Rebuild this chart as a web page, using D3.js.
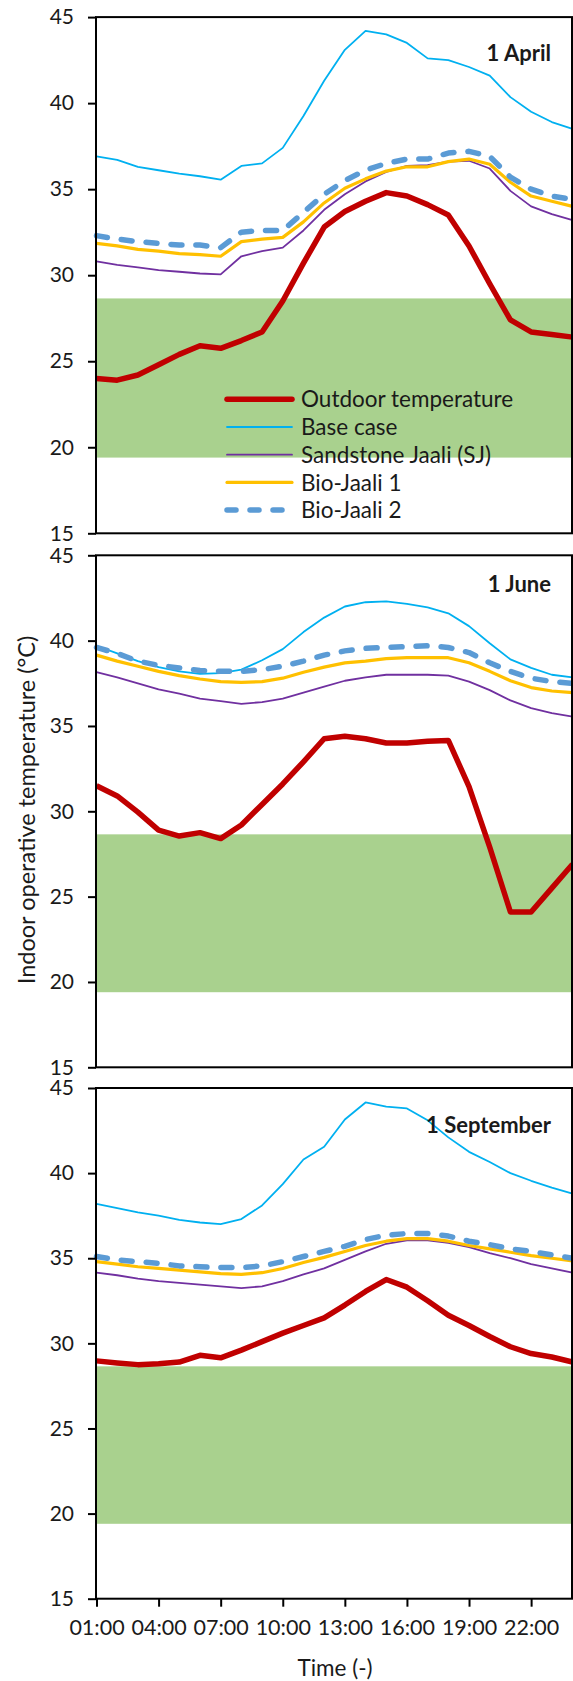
<!DOCTYPE html>
<html>
<head>
<meta charset="utf-8">
<script src="https://cdn.jsdelivr.net/npm/d3@7"></script>
<style>
  body { margin: 0; background: #fff; }
  text { font-family: Lato, "Open Sans", sans-serif; fill: #1a1a1a; }
</style>
</head>
<body>
<svg id="chart"></svg>
<script>
const width = 573, height = 1681;

// hourly categories
const hours = ["01:00","02:00","03:00","04:00","05:00","06:00","07:00","08:00","09:00","10:00","11:00","12:00",
               "13:00","14:00","15:00","16:00","17:00","18:00","19:00","20:00","21:00","22:00","23:00","24:00"];
const hourTicks = ["01:00","04:00","07:00","10:00","13:00","16:00","19:00","22:00"];
const tempTicks = [15, 20, 25, 30, 35, 40, 45];
const comfortBand = [19.4, 28.65];

const seriesNames = ["Outdoor temperature", "Base case", "Sandstone Jaali (SJ)", "Bio-Jaali 1", "Bio-Jaali 2"];

// 1 April
const aprilOutdoor = [24.0,23.9,24.2,24.8,25.4,25.9,25.75,26.2,26.7,28.5,30.7,32.8,33.7,34.3,34.8,34.6,34.1,33.5,31.7,29.5,27.4,26.7,26.55,26.4];
const aprilBase    = [36.9,36.7,36.3,36.1,35.9,35.75,35.55,36.35,36.5,37.4,39.25,41.3,43.1,44.2,44.0,43.5,42.6,42.5,42.1,41.6,40.35,39.5,38.9,38.5];
const aprilSJ      = [30.8,30.6,30.45,30.3,30.2,30.1,30.05,31.1,31.4,31.6,32.6,33.8,34.7,35.45,36.0,36.35,36.4,36.6,36.65,36.2,34.9,34.0,33.55,33.2];
const aprilBJ1     = [31.85,31.7,31.5,31.4,31.25,31.2,31.1,31.95,32.1,32.2,33.1,34.2,35.05,35.6,36.05,36.3,36.3,36.6,36.75,36.45,35.4,34.6,34.3,34.0];
const aprilBJ2     = [32.3,32.1,31.95,31.85,31.75,31.75,31.6,32.5,32.6,32.6,33.65,34.7,35.5,36.1,36.5,36.75,36.75,37.1,37.2,36.9,35.7,35.0,34.6,34.4];

// 1 June
const juneOutdoor = [31.5,30.9,29.95,28.9,28.55,28.75,28.4,29.2,30.4,31.6,32.9,34.25,34.4,34.25,34.0,34.0,34.1,34.15,31.45,27.9,24.1,24.1,25.5,26.9];
const juneBase    = [39.7,39.25,38.8,38.45,38.2,38.05,38.1,38.3,38.85,39.5,40.5,41.35,42.0,42.25,42.3,42.15,41.95,41.6,40.85,39.85,38.9,38.4,38.0,37.85];
const juneSJ      = [38.15,37.85,37.5,37.15,36.9,36.6,36.45,36.3,36.4,36.6,36.95,37.3,37.65,37.85,38.0,38.0,38.0,37.95,37.6,37.1,36.5,36.05,35.75,35.55];
const juneBJ1     = [39.15,38.8,38.5,38.2,37.95,37.75,37.6,37.55,37.6,37.8,38.15,38.45,38.7,38.8,38.95,39.0,39.0,39.0,38.7,38.2,37.65,37.25,37.05,36.95];
const juneBJ2     = [39.6,39.25,38.8,38.55,38.4,38.25,38.2,38.2,38.3,38.5,38.8,39.15,39.4,39.55,39.6,39.65,39.7,39.6,39.3,38.7,38.2,37.8,37.6,37.5];

// 1 September
const septOutdoor = [28.97,28.85,28.75,28.8,28.9,29.3,29.15,29.6,30.1,30.6,31.05,31.5,32.25,33.05,33.75,33.3,32.5,31.65,31.05,30.4,29.8,29.4,29.2,28.9];
const septBase    = [38.2,37.95,37.7,37.5,37.25,37.1,37.0,37.3,38.1,39.35,40.8,41.55,43.15,44.15,43.9,43.8,43.1,42.1,41.25,40.65,40.0,39.55,39.15,38.8];
const septSJ      = [34.15,34.0,33.8,33.65,33.55,33.45,33.35,33.25,33.35,33.65,34.05,34.4,34.9,35.4,35.85,36.05,36.05,35.9,35.65,35.3,35.0,34.65,34.4,34.15];
const septBJ1     = [34.8,34.65,34.5,34.4,34.3,34.2,34.1,34.05,34.15,34.4,34.75,35.05,35.4,35.75,36.0,36.15,36.15,36.0,35.75,35.55,35.35,35.15,35.0,34.85];
const septBJ2     = [35.1,34.9,34.8,34.7,34.55,34.5,34.45,34.45,34.55,34.8,35.1,35.4,35.7,36.1,36.35,36.45,36.45,36.3,36.0,35.8,35.55,35.4,35.2,35.0];

//line styles per series
const styles = [
    {color: "#C00000", width: 5.5, dash: null},
    {color: "#00B0F0", width: 1.8, dash: null},
    {color: "#7030A0", width: 1.8, dash: null},
    {color: "#FFC000", width: 3.2, dash: null},
    {color: "#5B9BD5", width: 5.5, dash: "11,14"}
];

//panel layout
const panels = [
    {title: "1 April",     top: 17.1, bottom: 533.3,  titleY: 60.7,  data: [aprilOutdoor, aprilBase, aprilSJ, aprilBJ1, aprilBJ2], legend: true},
    {title: "1 June",      top: 555.3, bottom: 1067.3, titleY: 591.7, data: [juneOutdoor, juneBase, juneSJ, juneBJ1, juneBJ2]},
    {title: "1 September", top: 1088, bottom: 1598.7,  titleY: 1133.3, data: [septOutdoor, septBase, septSJ, septBJ1, septBJ2], xAxis: true}
];

const plotLeft = 96, plotRight = 572;

const svg = d3.select("#chart")
    .attr("width", width)
    .attr("height", height);

const x = d3.scalePoint()
    .domain(hours)
    .range([plotLeft + 0.5, plotRight + 0.5]);

panels.forEach(p => {
    const y = d3.scaleLinear()
        .domain([15, 45])
        .range([p.bottom, p.top]);

    const g = svg.append("g");

    //comfort band
    g.append("rect")
        .attr("x", plotLeft)
        .attr("width", plotRight - plotLeft)
        .attr("y", y(comfortBand[1]))
        .attr("height", y(comfortBand[0]) - y(comfortBand[1]))
        .attr("fill", "#A9D18E");

    //series lines
    const line = d3.line()
        .x((d, i) => x(hours[i]))
        .y(d => y(d));

    g.selectAll(".series")
        .data(p.data)
        .join("path")
        .attr("class", "series")
        .attr("d", line)
        .attr("fill", "none")
        .attr("stroke", (d, i) => styles[i].color)
        .attr("stroke-width", (d, i) => styles[i].width)
        .attr("stroke-dasharray", (d, i) => styles[i].dash)
        .attr("stroke-linejoin", "round")
        .attr("stroke-linecap", (d, i) => styles[i].dash ? "round" : "butt");

    //frame
    g.append("rect")
        .attr("x", plotLeft)
        .attr("y", p.top)
        .attr("width", plotRight - plotLeft)
        .attr("height", p.bottom - p.top)
        .attr("fill", "none")
        .attr("stroke", "#000")
        .attr("stroke-width", 2);

    //y axis
    const yAxis = g.append("g")
        .attr("transform", `translate(${plotLeft},0)`)
        .call(d3.axisLeft(y).tickValues(tempTicks).tickSize(8).tickPadding(14));
    yAxis.select(".domain").remove();
    yAxis.selectAll(".tick line").attr("stroke", "#000").attr("stroke-width", 2);
    yAxis.selectAll(".tick text")
        .attr("font-size", 21)
        .attr("fill", "#1a1a1a")
        .style("font-family", "Lato, sans-serif");

    //panel title
    g.append("text")
        .attr("x", 551)
        .attr("y", p.titleY)
        .attr("text-anchor", "end")
        .attr("font-size", 22)
        .attr("font-weight", "bold")
        .text(p.title);

    if (p.xAxis) {
        const xAxis = g.append("g")
            .attr("transform", `translate(0,${p.bottom})`)
            .call(d3.axisBottom(x).tickValues(hourTicks).tickSize(8).tickPadding(13));
        xAxis.select(".domain").remove();
        xAxis.selectAll(".tick line").attr("stroke", "#000").attr("stroke-width", 2);
        xAxis.selectAll(".tick text")
            .attr("font-size", 21.5)
            .attr("fill", "#1a1a1a")
            .style("font-family", "Lato, sans-serif");
    }

    if (p.legend) {
        const leg = g.append("g");
        seriesNames.forEach((name, i) => {
            const ly = 399.3 + i * 27.7;
            leg.append("line")
                .attr("x1", 227).attr("x2", 292)
                .attr("y1", ly).attr("y2", ly)
                .attr("stroke", styles[i].color)
                .attr("stroke-width", styles[i].width)
                .attr("stroke-dasharray", styles[i].dash ? "9,14" : null)
                .attr("stroke-linecap", "round");
            leg.append("text")
                .attr("x", 301)
                .attr("y", ly)
                .attr("dy", "0.36em")
                .attr("font-size", 22.5)
                .text(name);
        });
    }
});

//axis titles
svg.append("text")
    .attr("transform", "translate(27,810) rotate(-90)")
    .attr("text-anchor", "middle")
    .attr("dy", "0.35em")
    .attr("font-size", 23.5)
    .text("Indoor operative temperature (°C)");

svg.append("text")
    .attr("x", 335)
    .attr("y", 1668)
    .attr("dy", "0.35em")
    .attr("text-anchor", "middle")
    .attr("font-size", 22.5)
    .text("Time (-)");
</script>
</body>
</html>
